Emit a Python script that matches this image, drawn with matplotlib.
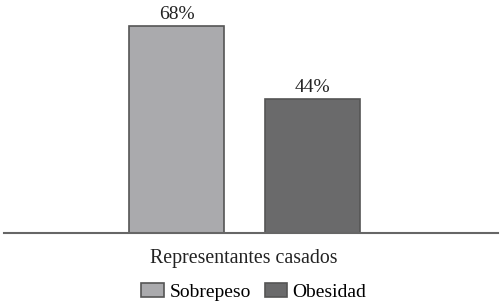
import matplotlib.pyplot as plt
from matplotlib.patches import Patch

categories = ['Sobrepeso', 'Obesidad']
values = [68, 44]
labels = ['68%', '44%']
group = 'Representantes casados'

colors = ['#aaaaad', '#6a6a6b']
edge = '#555555'

plt.rcParams['font.family'] = ['Liberation Serif', 'DejaVu Serif']

fig = plt.figure(figsize=(5.01, 3.04), dpi=100)
ax = fig.add_axes([4 / 501, 71 / 304, 494 / 501, 228.75 / 304])

pos = [0, 1]
ax.bar(pos, values, width=0.7, color=colors, edgecolor=edge, linewidth=1.2)
for p, v, t in zip(pos, values, labels):
    ax.text(p, v + 0.9, t, ha='center', va='bottom', fontsize=14, color='#222222')

ax.set_xlim(-1.268, 2.364)
ax.set_ylim(0, 75)
for s in ['top', 'right', 'left']:
    ax.spines[s].set_visible(False)
ax.spines['bottom'].set_color('#666666')
ax.spines['bottom'].set_linewidth(1.5)
ax.set_xticks([])
ax.set_yticks([])

fig.text(244 / 501, 1 - 258 / 304, group, ha='center', va='center', fontsize=14.3, color='#222222')

handles = [Patch(facecolor=c, edgecolor=edge, linewidth=1.2) for c in colors]
fig.legend(handles, categories, loc='center', bbox_to_anchor=(254 / 501, 1 - 292 / 304),
           ncol=2, frameon=False, fontsize=14, handlelength=1.15, handleheight=0.75,
           handletextpad=0.3, columnspacing=0.7, borderpad=0)

fig.savefig('out.png', dpi=100)
